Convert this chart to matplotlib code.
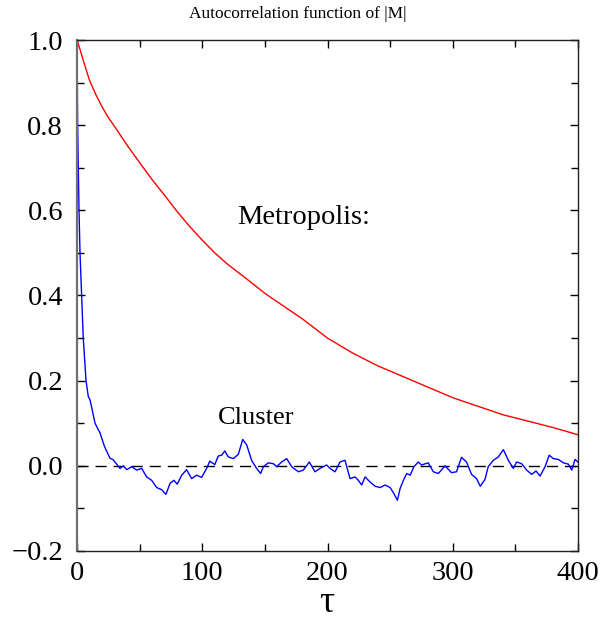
import matplotlib
matplotlib.use("Agg")
import matplotlib.pyplot as plt
from matplotlib.ticker import MultipleLocator

plt.rcParams['font.family'] = ['Liberation Serif', 'DejaVu Serif']

# Metropolis autocorrelation
metro_tau = [0, 2, 5, 10, 15, 20, 25, 30, 40, 50, 60, 70, 80, 90, 100, 110, 120, 135,
             150, 165, 180, 200, 220, 240, 260, 280, 300, 320, 340, 360, 380, 400]
metro_acf = [1.0, 0.982, 0.952, 0.905, 0.872, 0.843, 0.818, 0.797, 0.753, 0.712,
             0.672, 0.635, 0.597, 0.562, 0.53, 0.50, 0.474, 0.44, 0.405, 0.375,
             0.345, 0.30, 0.265, 0.235, 0.21, 0.185, 0.16, 0.14, 0.12, 0.105,
             0.09, 0.073]

# Cluster autocorrelation
cluster_tau = [0, 0.5, 1.6, 2.4, 3.7, 5, 7.2, 9, 10.4, 14.4, 18.4, 22, 26.3, 29, 34.3,
               37, 39.7, 43.6, 47.6, 51.6, 55.6, 59.6, 63.6, 67.6, 71, 74.3, 77.4, 80,
               83.6, 87.5, 91.5, 95.5, 99.5, 103.5, 106, 110, 112.8, 115.5, 118, 120.8,
               124.8, 128.8, 132.3, 135.5, 139.4, 143.4, 146.6, 148.8, 152.7, 156.8,
               159.4, 163.4, 167.4, 171.4, 176.8, 180.7, 185.5, 190, 194, 199.3, 202,
               206, 210, 214, 218, 222, 224.6, 227.3, 230, 234, 238, 242, 246, 250,
               253, 255.8, 258, 260.6, 263.3, 266, 269, 272.5, 275, 280.4, 284.5,
               288.5, 293.8, 299, 303, 307, 311, 315, 319, 322, 325.7, 328.3, 332.4,
               336.4, 340.4, 344.4, 348.4, 351, 355, 359, 363, 366.5, 369.7, 373.7,
               377, 380.3, 384.3, 388.3, 392.3, 395, 397.6, 400]
cluster_acf = [1.0, 0.80, 0.60, 0.50, 0.40, 0.30, 0.20, 0.163, 0.155, 0.10, 0.077,
               0.045, 0.018, 0.014, -0.006, 0.0, -0.009, -0.002, -0.010, -0.006,
               -0.026, -0.034, -0.051, -0.056, -0.067, -0.041, -0.034, -0.043, -0.022,
               -0.009, -0.030, -0.022, -0.027, -0.006, 0.011, 0.003, 0.023, 0.025,
               0.035, 0.021, 0.017, 0.027, 0.062, 0.049, 0.013, -0.006, -0.018,
               -0.002, 0.007, 0.005, -0.002, 0.009, 0.017, -0.002, -0.014, -0.010,
               0.009, -0.014, -0.006, 0.002, -0.006, -0.014, 0.009, 0.013, -0.030,
               -0.026, -0.034, -0.045, -0.026, -0.038, -0.048, -0.051, -0.045, -0.051,
               -0.065, -0.081, -0.053, -0.034, -0.018, -0.022, -0.002, 0.009, 0.002,
               0.007, -0.014, -0.018, 0.0, -0.016, -0.014, 0.020, 0.009, -0.020,
               -0.030, -0.048, -0.032, -0.002, 0.013, 0.021, 0.038, 0.013, -0.006,
               0.009, 0.005, -0.010, -0.020, -0.012, -0.024, -0.002, 0.025, 0.017,
               0.015, 0.007, 0.004, -0.010, 0.015, 0.009]

fig = plt.figure(figsize=(6.13, 6.20), dpi=100)
ax = fig.add_axes([77/613, 1 - 551/620, (578 - 77)/613, (551 - 40)/620])

ax.axhline(0, color='black', lw=1.0, dashes=(8, 5))
ax.plot(metro_tau, metro_acf, color='#ff0000', lw=1.0)
ax.plot(cluster_tau, cluster_acf, color='#0000ff', lw=1.0)

ax.set_xlim(0, 400)
ax.set_ylim(-0.2, 1.0)
ax.xaxis.set_major_locator(MultipleLocator(100))
ax.xaxis.set_minor_locator(MultipleLocator(50))
ax.yaxis.set_minor_locator(MultipleLocator(0.1))
ax.set_yticks([-0.2, 0.0, 0.2, 0.4, 0.6, 0.8, 1.0])
ax.set_yticklabels(['\u22120.2', '0.0', '0.2', '0.4', '0.6', '0.8', '1.0'])
ax.tick_params(which='both', direction='in', top=True, right=True, labelsize=20.5)
ax.tick_params(axis='y', pad=10)
ax.tick_params(axis='x', pad=7)
ax.tick_params(which='major', length=5.5, width=1)
ax.tick_params(which='minor', length=5, width=1)

for side in ['left']:
    ax.spines[side].set_color('#707070')
    ax.spines[side].set_linewidth(1.6)
for side in ['top', 'bottom', 'right']:
    ax.spines[side].set_color('#222222')
    ax.spines[side].set_linewidth(1.0)

# x-axis label placed in figure coordinates below tick labels
fig.text(327/613, 8/620, '\u03c4', fontsize=27, ha='center', va='baseline')

ax.text(128, 0.582, 'Metropolis:', fontsize=20.5, ha='left', va='center')
ax.text(112.6, 0.113, 'Cluster', fontsize=19, ha='left', va='center')

fig.text(298/613, 1 - 14/620, 'Autocorrelation function of |M|', fontsize=12.5,
         ha='center', va='center')

fig.savefig('out.png', dpi=100)
